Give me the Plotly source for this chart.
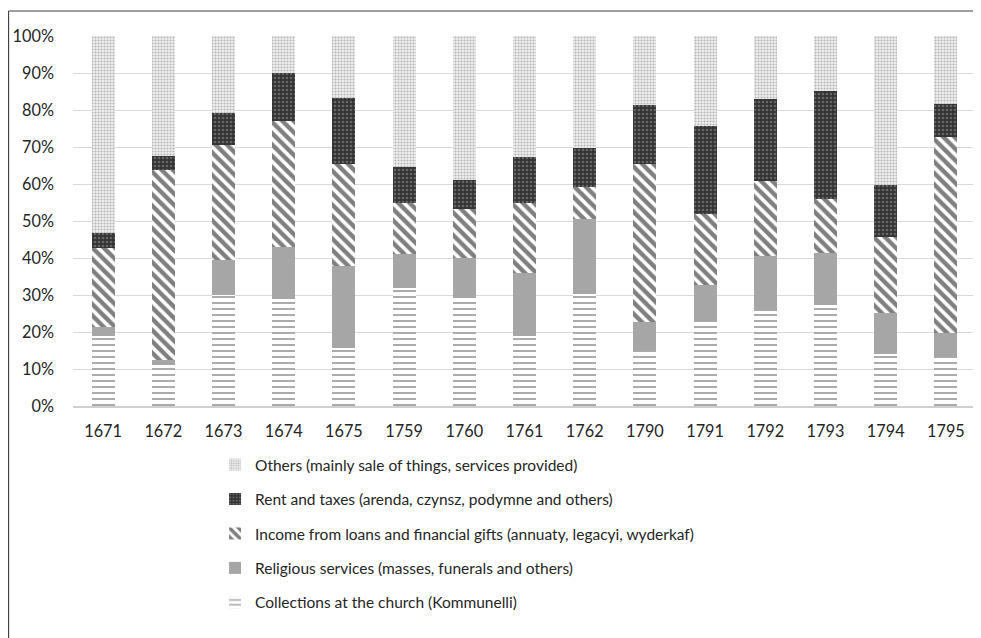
import plotly.graph_objects as go

years = ["1671", "1672", "1673", "1674", "1675", "1759", "1760", "1761",
         "1762", "1790", "1791", "1792", "1793", "1794", "1795"]

# shares (%) of each income source, per year
collections = [18.9, 11.1, 30.0, 28.8, 15.6, 32.0, 29.3, 18.9, 30.3, 15.1, 23.0, 25.8, 27.3, 14.1, 13.3]
religious = [2.4, 1.2, 9.5, 14.3, 22.2, 9.1, 10.8, 17.1, 20.2, 7.7, 9.7, 14.8, 14.1, 11.1, 6.5]
loans = [21.3, 51.5, 31.0, 33.9, 27.6, 13.9, 13.1, 19.0, 8.8, 42.5, 19.1, 20.3, 14.5, 20.4, 53.0]
rent = [4.2, 3.8, 8.8, 12.9, 17.8, 9.5, 7.9, 12.4, 10.3, 16.1, 23.9, 22.1, 29.2, 14.1, 8.8]
others = [53.2, 32.4, 20.7, 10.1, 16.8, 35.5, 38.9, 32.6, 30.4, 18.6, 24.3, 17.0, 14.9, 40.3, 18.4]

names = [
    "Collections at the church (Kommunelli)",
    "Religious services (masses, funerals and others)",
    "Income from loans and financial gifts (annuaty, legacyi, wyderkaf)",
    "Rent and taxes (arenda, czynsz, podymne and others)",
    "Others (mainly sale of things, services provided)",
]

FONT = "Lato, 'Open Sans', sans-serif"
TICK_SIZE = 16.3
LEG_SIZE = 15.5

fig = go.Figure()

fig.add_trace(go.Bar(
    x=years, y=[v / 100 for v in collections], name=names[0],
    legendgroup="a", legendrank=5,
    marker=dict(color="white", line=dict(width=0),
                pattern=dict(shape="-", fgcolor="#444444", bgcolor="white",
                             size=6, solidity=0.3, fillmode="overlay")),
))
fig.add_trace(go.Bar(
    x=years, y=[v / 100 for v in religious], name=names[1],
    legendgroup="b", legendrank=4,
    marker=dict(color="#a6a6a6", line=dict(width=0)),
))
fig.add_trace(go.Bar(
    x=years, y=[v / 100 for v in loans], name=names[2],
    legendgroup="c", legendrank=3,
    marker=dict(color="white", line=dict(width=0),
                pattern=dict(shape="\\", fgcolor="#000000", bgcolor="white",
                             size=8, solidity=0.55, fillmode="overlay")),
))
fig.add_trace(go.Bar(
    x=years, y=[v / 100 for v in rent], name=names[3],
    legendgroup="d", legendrank=2,
    marker=dict(color="#3a3a3a", line=dict(width=0),
                pattern=dict(shape=".", fgcolor="#9a9a9a", bgcolor="#333333",
                             size=4, solidity=0.35, fillmode="overlay")),
))
fig.add_trace(go.Bar(
    x=years, y=[v / 100 for v in others], name=names[4],
    legendgroup="e", legendrank=1,
    marker=dict(color="white", line=dict(width=0),
                pattern=dict(shape=".", fgcolor="#7a7a7a", bgcolor="#f0f0f0",
                             size=3, solidity=0.4, fillmode="overlay")),
))

# page body has an 8px margin, so the figure is sized to fit the 981x638 window
W, H = 973, 630
fig.update_layout(
    barmode="stack",
    bargap=0.62,
    width=W, height=H,
    margin=dict(l=65, r=5, t=28, b=232),
    paper_bgcolor="white", plot_bgcolor="white",
    font=dict(family=FONT, size=TICK_SIZE, color="#262626"),
    showlegend=True,
    legend=dict(
        traceorder="grouped", tracegroupgap=11.3,
        orientation="v", x=0.1573, xanchor="left", y=-0.1135, yanchor="top",
        font=dict(family=FONT, size=LEG_SIZE, color="#262626"),
        bgcolor="rgba(0,0,0,0)", itemwidth=30,
    ),
    xaxis=dict(type="category", showgrid=False, showline=True,
               linecolor="#d0d0d0", linewidth=1.5, ticks="",
               ticklabelstandoff=10,
               tickfont=dict(family=FONT, size=TICK_SIZE, color="#262626")),
    yaxis=dict(range=[0, 1], tickvals=[i / 10 for i in range(11)],
               tickformat=".0%", showgrid=True, gridcolor="#d9d9d9",
               gridwidth=1, zeroline=False, showline=False, ticks="",
               ticklabelstandoff=18,
               tickfont=dict(family=FONT, size=TICK_SIZE, color="#262626")),
    shapes=[
        dict(type="line", xref="paper", yref="paper",
             x0=-0.0714, x1=1.1, y0=1.0676, y1=1.0676,
             line=dict(color="#404040", width=1.2)),
        dict(type="line", xref="paper", yref="paper",
             x0=-0.0714, x1=-0.0714, y0=1.0676, y1=-0.7,
             line=dict(color="#404040", width=1.2)),
    ],
)

fig.write_html("out.html")
